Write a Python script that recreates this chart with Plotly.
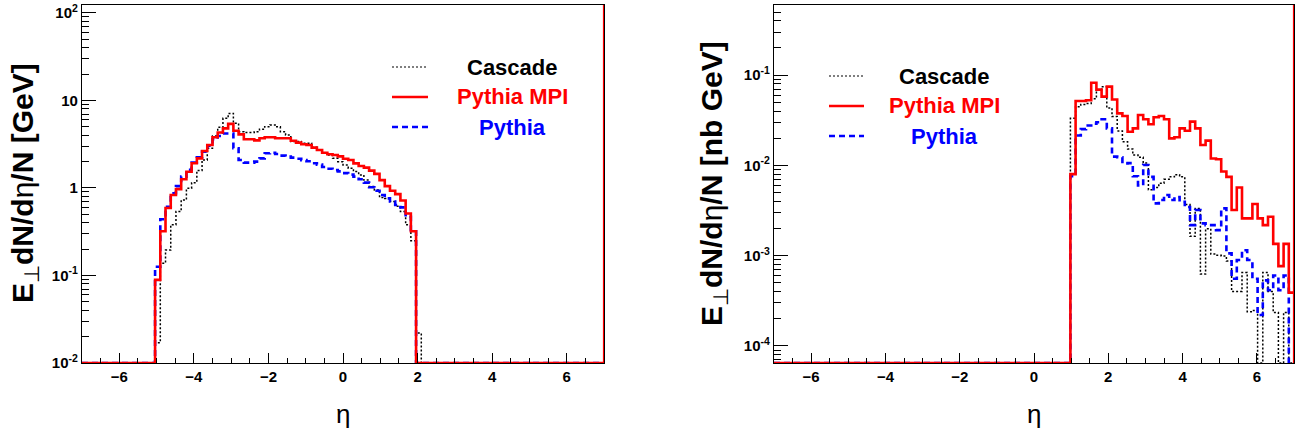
import numpy as np
import plotly.graph_objects as go

# ---------------- data ----------------
BIN_WIDTH = 0.14
X_MIN, X_MAX = -7.0, 7.0

series_names = ["Cascade", "Pythia MPI", "Pythia"]

# Left panel: E_T dN/deta / N [GeV], first filled bin starts at eta = -5.04
left_start = -5.04
left_cascade = [0.017, 0.138, 0.195, 0.38, 0.54, 0.73, 0.99, 1.15, 1.58, 2.09,
                2.84, 3.93, 4.93, 6.26, 7.1, 5.5, 4.4, 4.3, 4.3, 4.4,
                4.69, 5.02, 5.25, 5.0, 4.4, 4.03, 3.39, 3.39, 3.24, 3.24,
                2.92, 2.72, 2.49, 2.38, 2.18, 2.0, 1.83, 1.68, 1.54, 1.41,
                1.23, 1.04, 0.95, 0.78, 0.76, 0.70, 0.62, 0.54, 0.38, 0.25,
                0.022]
left_mpi = [0.089, 0.32, 0.59, 0.83, 0.97, 1.26, 1.53, 1.92, 2.18, 2.65,
            3.1, 3.8, 4.3, 4.8, 5.4, 4.5, 4.1, 3.6, 3.6, 3.5,
            3.7, 3.8, 3.8, 3.7, 3.70, 3.70, 3.47, 3.30, 3.16, 3.10,
            2.89, 2.72, 2.53, 2.43, 2.38, 2.30, 2.16, 2.09, 1.91, 1.78,
            1.71, 1.58, 1.45, 1.23, 1.05, 0.93, 0.85, 0.72, 0.51, 0.32]
left_pythia = [0.126, 0.44, 0.61, 0.87, 1.05, 1.35, 1.61, 1.95, 2.24, 2.60,
               3.05, 3.6, 3.93, 4.2, 4.2, 2.84, 2.09, 1.95, 1.95, 2.0,
               2.18, 2.49, 2.53, 2.45, 2.34, 2.28, 2.22, 2.16, 2.08, 2.02,
               1.92, 1.85, 1.74, 1.66, 1.60, 1.55, 1.48, 1.42, 1.35, 1.26,
               1.15, 1.02, 0.93, 0.83, 0.76, 0.70, 0.64, 0.60, 0.47, 0.32]

# Right panel: E_T dN/deta / N [nb GeV], first filled bin starts at eta = 0.98
right_start = 0.98
right_cascade = [0.0333, 0.0447, 0.0474, 0.0484, 0.0548, 0.0683, 0.0745, 0.0432, 0.0347, 0.0241,
                 0.0183, 0.0152, 0.0130, 0.0123, 0.0106, 0.00536, 0.00569, 0.00635, 0.00701, 0.00746,
                 0.00789, 0.00746, 0.00368, 0.00164, 0.00334, 0.000626, 0.00199, 0.00104, 0.00101, 0.00099,
                 0.00087, 0.000402, 0.000402, 0.00065, 0.000239, 0.000247, 0.0, 0.00065, 0.000402, 0.000235,
                 0.0, 0.000235, 0.0]
right_mpi = [0.0080, 0.0516, 0.0516, 0.0526, 0.0824, 0.0691, 0.0578, 0.0745, 0.0537, 0.0377,
             0.0353, 0.0236, 0.0257, 0.0361, 0.0324, 0.0285, 0.0341, 0.0353, 0.0324, 0.0199,
             0.0205, 0.0257, 0.0242, 0.0305, 0.0257, 0.0168, 0.0188, 0.0119, 0.0117, 0.00855,
             0.00746, 0.0032, 0.00569, 0.00259, 0.00259, 0.00374, 0.00259, 0.00218, 0.0027, 0.00135,
             0.000766, 0.00135, 0.00039]
right_pythia = [0.00757, 0.0214, 0.0252, 0.0277, 0.0289, 0.0301, 0.0324, 0.0257, 0.0125, 0.0123,
                0.0105, 0.0106, 0.00757, 0.0060, 0.0101, 0.00746, 0.00379, 0.00413, 0.00469, 0.00413,
                0.00447, 0.00396, 0.00346, 0.00218, 0.0032, 0.00228, 0.00218, 0.00218, 0.00192, 0.00334,
                0.00106, 0.000556, 0.000895, 0.00115, 0.000895, 0.000556, 0.00022, 0.000532, 0.000414, 0.000603,
                0.000414, 0.000603, 0.0]

x_tickvals = [-6, -4, -2, 0, 2, 4, 6]
left_ytickvals = [1e-2, 1e-1, 1, 10, 100]
left_yticktext = ["10<sup>-2</sup>", "10<sup>-1</sup>", "1", "10", "10<sup>2</sup>"]
right_ytickvals = [1e-4, 1e-3, 1e-2, 1e-1]
right_yticktext = ["10<sup>-4</sup>", "10<sup>-3</sup>", "10<sup>-2</sup>", "10<sup>-1</sup>"]

left_ytitle = "<b>E</b><sub>⊥</sub><b>dN/d</b>η<b>/N [GeV]</b>"
right_ytitle = "<b>E</b><sub>⊥</sub><b>dN/d</b>η<b>/N [nb GeV]</b>"
x_title = "η"

# ---------------- styling ----------------
W, H = 1298, 434
LEFT_YRANGE = [-2.0, 2.091]
RIGHT_YRANGE = [-4.189, -0.2234]
colors = {"Cascade": "#000000", "Pythia MPI": "#ff0000", "Pythia": "#0000ff"}
dashes = {"Cascade": "2px,2px", "Pythia MPI": "solid", "Pythia": "6px,4px"}
widths = {"Cascade": 1.5, "Pythia MPI": 2.6, "Pythia": 2.6}
legend_widths = {"Cascade": 1.2, "Pythia MPI": 2.4, "Pythia": 2.4}
FONT = "Liberation Sans, Arial, sans-serif"


def px(x):
    return x / W


def py(y):
    return 1 - y / H


def full_hist(start, vals, floor):
    nb = int(round((X_MAX - X_MIN) / BIN_WIDTH))
    edges = X_MIN + BIN_WIDTH * np.arange(nb + 1)
    y = np.zeros(nb)
    i0 = int(round((start - X_MIN) / BIN_WIDTH))
    y[i0:i0 + len(vals)] = vals
    y = np.where(y > 0, y, floor)
    return edges, np.append(y, y[-1])


fig = go.Figure()

panels = [
    ("x", "y", left_start, {"Cascade": left_cascade, "Pythia MPI": left_mpi, "Pythia": left_pythia}, LEFT_YRANGE),
    ("x2", "y2", right_start, {"Cascade": right_cascade, "Pythia MPI": right_mpi, "Pythia": right_pythia}, RIGHT_YRANGE),
]
draw_order = ["Cascade", "Pythia", "Pythia MPI"]
for xa, ya, start, data, yr in panels:
    floor = 10 ** yr[0]
    for name in draw_order:
        ex, ey = full_hist(start, data[name], floor)
        fig.add_trace(go.Scatter(
            x=ex, y=ey, mode="lines", line_shape="hv", xaxis=xa, yaxis=ya,
            line=dict(color=colors[name], width=widths[name], dash=dashes[name]),
            showlegend=False, hoverinfo="skip"))

lx = [px(82), px(604)]
rx = [px(774), px(1294)]
yd = [py(363), py(5)]


def minor_vals(lo, hi):
    out = []
    for d in range(int(np.floor(lo)) - 1, int(np.ceil(hi)) + 1):
        for k in range(2, 10):
            out.append(k * 10.0 ** d)
    return out


xminor = [v / 2 for v in range(-14, 15) if v % 4 != 0]

common_x = dict(range=[X_MIN, X_MAX], showgrid=False, zeroline=False, showline=True,
                linecolor="black", linewidth=1.2, mirror=True, ticks="inside", ticklen=10,
                tickwidth=1, tickcolor="black", tickmode="array", tickvals=x_tickvals,
                tickfont=dict(family=FONT, size=15, color="black", weight="bold"),
                automargin=False,
                minor=dict(tickmode="array", tickvals=xminor, ticks="inside", ticklen=5,
                           tickcolor="black", tickwidth=1, showgrid=False))

common_y = dict(type="log", showgrid=False, zeroline=False, showline=True, linecolor="black",
                linewidth=1.2, mirror=True, ticks="inside", ticklen=14, tickwidth=1,
                tickcolor="black", tickmode="array", automargin=False,
                tickfont=dict(family=FONT, size=15, color="black", weight="bold"))

fig.update_layout(
    width=W, height=H, margin=dict(l=0, r=0, t=0, b=0, autoexpand=False),
    paper_bgcolor="white", plot_bgcolor="white", showlegend=False,
    xaxis=dict(domain=lx, anchor="y", **common_x),
    yaxis=dict(domain=yd, anchor="x", range=LEFT_YRANGE, tickvals=left_ytickvals,
               ticktext=left_yticktext,
               minor=dict(tickmode="array", tickvals=minor_vals(*LEFT_YRANGE), ticks="inside",
                          ticklen=7, tickcolor="black", tickwidth=1, showgrid=False),
               **common_y),
    xaxis2=dict(domain=rx, anchor="y2", **common_x),
    yaxis2=dict(domain=yd, anchor="x2", range=RIGHT_YRANGE, tickvals=right_ytickvals,
                ticktext=right_yticktext,
                minor=dict(tickmode="array", tickvals=minor_vals(*RIGHT_YRANGE), ticks="inside",
                           ticklen=7, tickcolor="black", tickwidth=1, showgrid=False),
                **common_y),
)

# red line along the right frame (as in the reference)
for xr, yr_ in (("x", "y domain"), ("x2", "y2 domain")):
    fig.add_shape(type="line", xref=xr, yref=yr_, x0=X_MAX, x1=X_MAX, y0=0, y1=1,
                  line=dict(color="#ff0000", width=2.2), layer="above")

# axis titles
fig.add_annotation(text=left_ytitle, xref="paper", yref="paper", x=px(24), y=py(183),
                   textangle=-90, showarrow=False, xanchor="center", yanchor="middle",
                   font=dict(family=FONT, size=30, color="black"))
fig.add_annotation(text=right_ytitle, xref="paper", yref="paper", x=px(714), y=py(184),
                   textangle=-90, showarrow=False, xanchor="center", yanchor="middle",
                   font=dict(family=FONT, size=30, color="black"))
for cx in (343, 1034):
    fig.add_annotation(text=x_title, xref="paper", yref="paper", x=px(cx), y=py(414),
                       showarrow=False, xanchor="center", yanchor="middle",
                       font=dict(family=FONT, size=26, color="black"))

# legends
legend_boxes = [
    (392, 428, 512, [67, 97, 127]),
    (829, 864, 944, [76, 106, 136]),
]
for x0, x1, tx, ys in legend_boxes:
    for name, yy in zip(series_names, ys):
        fig.add_shape(type="line", xref="paper", yref="paper", x0=px(x0), x1=px(x1),
                      y0=py(yy), y1=py(yy),
                      line=dict(color=colors[name], width=legend_widths[name], dash=dashes[name]))
        fig.add_annotation(text="<b>%s</b>" % name, xref="paper", yref="paper",
                           x=px(tx), y=py(yy), showarrow=False, xanchor="center",
                           yanchor="middle",
                           font=dict(family=FONT, size=22, color=colors[name]))

fig.write_html("out.html", config={"displayModeBar": False},
               post_script="document.body.style.margin='0px';")
